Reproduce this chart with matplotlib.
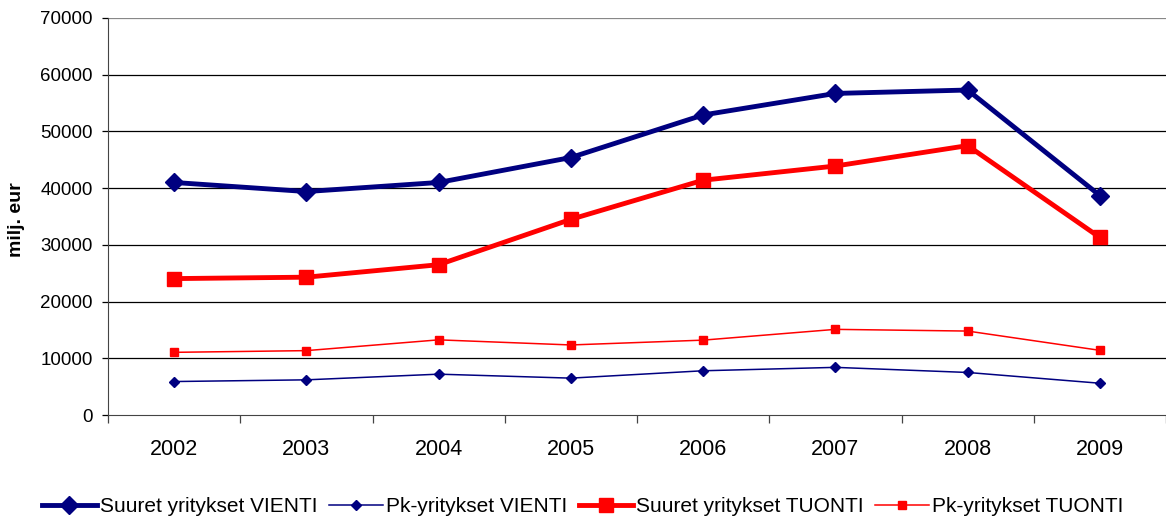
import matplotlib
matplotlib.use("Agg")
import matplotlib.pyplot as plt
import numpy as np

plt.rcParams['font.family'] = ['Liberation Sans', 'DejaVu Sans']

years = ["2002", "2003", "2004", "2005", "2006", "2007", "2008", "2009"]
suuret_vienti = [41000, 39400, 41000, 45400, 52900, 56700, 57300, 38700]
pk_vienti = [5900, 6200, 7200, 6500, 7800, 8400, 7500, 5600]
suuret_tuonti = [24050, 24300, 26500, 34500, 41400, 43900, 47500, 31300]
pk_tuonti = [11050, 11350, 13250, 12350, 13200, 15100, 14800, 11400]
yticks = [0, 10000, 20000, 30000, 40000, 50000, 60000, 70000]

navy = "#000080"
red = "#FF0000"

fig = plt.figure(figsize=(11.66, 5.17), dpi=100)
ax = fig.add_axes([108/1166, 1-415/517, 1-108/1166, (415-18)/517])

x = np.arange(len(years))
ax.plot(x, suuret_vienti, color=navy, lw=3.5, marker='D', ms=9, label="Suuret yritykset VIENTI", zorder=5)
ax.plot(x, pk_vienti, color=navy, lw=1.1, marker='D', ms=5.5, label="Pk-yritykset VIENTI", zorder=5)
ax.plot(x, suuret_tuonti, color=red, lw=3.5, marker='s', ms=9.5, label="Suuret yritykset TUONTI", zorder=5)
ax.plot(x, pk_tuonti, color=red, lw=1.1, marker='s', ms=6, label="Pk-yritykset TUONTI", zorder=5)

ax.set_xlim(-0.5, len(years) - 0.5)
ax.set_ylim(0, 70000)
ax.set_yticks(yticks)
ax.set_yticklabels([str(v) for v in yticks], fontsize=13.5)
for v in yticks[1:]:
    ax.axhline(v, color="#000000" if v < 70000 else "#888888", lw=0.9, zorder=1)

ax.set_xticks(np.arange(len(years) + 1) - 0.5)
ax.set_xticklabels([])
ax.set_xticks(x, minor=True)
ax.set_xticklabels(years, minor=True, fontsize=15.5)
ax.tick_params(axis='x', which='major', length=6, width=0.9, color="#444444")
ax.tick_params(axis='x', which='minor', length=0, pad=17)
ax.tick_params(axis='y', length=4, width=0.9, pad=7)

for s in ["top", "right"]:
    ax.spines[s].set_visible(False)
ax.spines["left"].set_color("#444444")
ax.spines["bottom"].set_color("#444444")

ax.set_ylabel("milj. eur", fontsize=14, fontweight="bold")
ax.yaxis.set_label_coords((25-108)/1058, (415-220)/397)

fig.legend(loc="center", bbox_to_anchor=(583/1166, 1-507/517), ncol=4, frameon=False,
           fontsize=15, handlelength=2.6, handletextpad=0.15, columnspacing=0.55)

fig.savefig("out.png", dpi=100)
